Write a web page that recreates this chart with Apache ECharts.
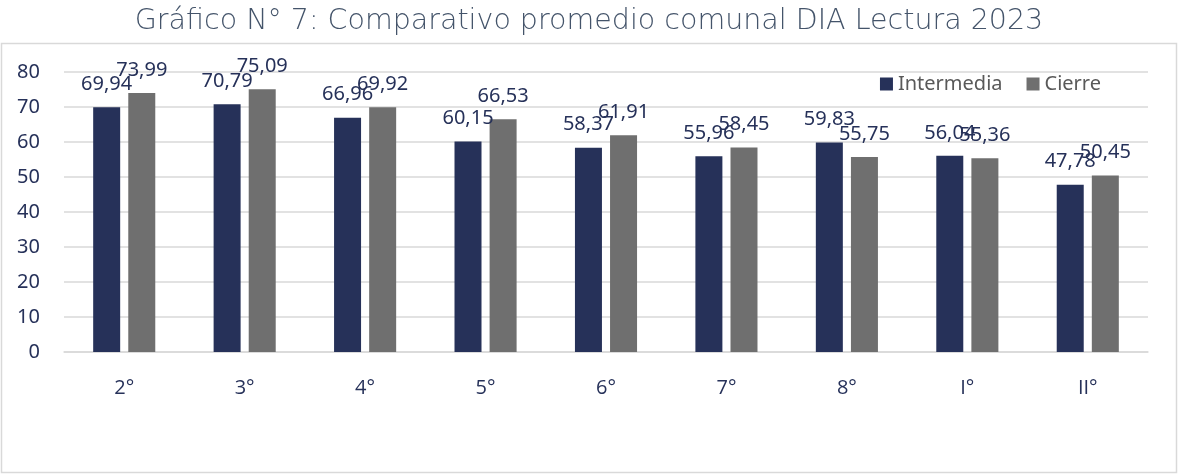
<!DOCTYPE html>
<html>
<head>
<meta charset="utf-8">
<script src="https://cdn.jsdelivr.net/npm/echarts@6/dist/echarts.min.js"></script>
<style>
  html, body { margin: 0; padding: 0; background: #fff; }
  #chart { width: 1178px; height: 474px; }
</style>
</head>
<body>
<div id="chart"></div>
<script>
// datos del gráfico
const cursos = ['2°', '3°', '4°', '5°', '6°', '7°', '8°', 'I°', 'II°']
const intermedia = [69.94, 70.79, 66.96, 60.15, 58.37, 55.96, 59.83, 56.04, 47.78]
const cierre = [73.99, 75.09, 69.92, 66.53, 61.91, 58.45, 55.75, 55.36, 50.45]

const chart = echarts.init(document.getElementById('chart'))

const FONT = '"Noto Sans", "Open Sans", sans-serif'

// etiqueta con coma decimal
const fmt = p => p.value.toFixed(2).replace('.', ',')

const labelStyle = {
  show: true,
  position: 'top',
  distance: 13,
  color: '#263159',
  fontSize: 20,
  fontFamily: FONT,
  formatter: fmt
}

const option = {
  animation: false,
  title: {
    text: 'Gráfico N° 7: Comparativo promedio comunal DIA Lectura 2023',
    left: 'center',
    top: 2,
    textStyle: {
      color: '#44546a',
      fontSize: 28.5,
      fontWeight: 200,
      fontFamily: '"DejaVu Sans"'
    }
  },
  graphic: [
    {
      type: 'rect',
      shape: { x: 1.5, y: 43.5, width: 1175, height: 429 },
      style: { fill: 'none', stroke: '#d9d9d9', lineWidth: 1.5 },
      z: -1
    }
  ],
  legend: {
    right: 72,
    top: 69,
    itemWidth: 13,
    itemHeight: 13,
    itemGap: 24,
    icon: 'rect',
    textStyle: { color: '#595959', fontSize: 20, fontFamily: FONT },
    data: ['Intermedia', 'Cierre']
  },
  grid: { left: 64, right: 30, top: 72, bottom: 122 },
  xAxis: {
    type: 'category',
    data: cursos,
    axisLine: { lineStyle: { color: '#d9d9d9', width: 1.5 } },
    axisTick: { show: false },
    axisLabel: { color: '#263159', fontSize: 20, fontFamily: 'Open Sans', margin: 26 }
  },
  yAxis: {
    type: 'value',
    min: 0,
    max: 80,
    interval: 10,
    axisLine: { show: false },
    axisTick: { show: false },
    axisLabel: { color: '#263159', fontSize: 20, fontFamily: FONT, margin: 24 },
    splitLine: { lineStyle: { color: '#d9d9d9', width: 1.5 } }
  },
  series: [
    {
      name: 'Intermedia',
      type: 'bar',
      data: intermedia,
      barWidth: 27,
      barGap: '30%',
      itemStyle: { color: '#263159' },
      label: labelStyle
    },
    {
      name: 'Cierre',
      type: 'bar',
      data: cierre,
      barWidth: 27,
      itemStyle: { color: '#6f6f6f' },
      label: labelStyle
    }
  ]
}

chart.setOption(option)
</script>
</body>
</html>
